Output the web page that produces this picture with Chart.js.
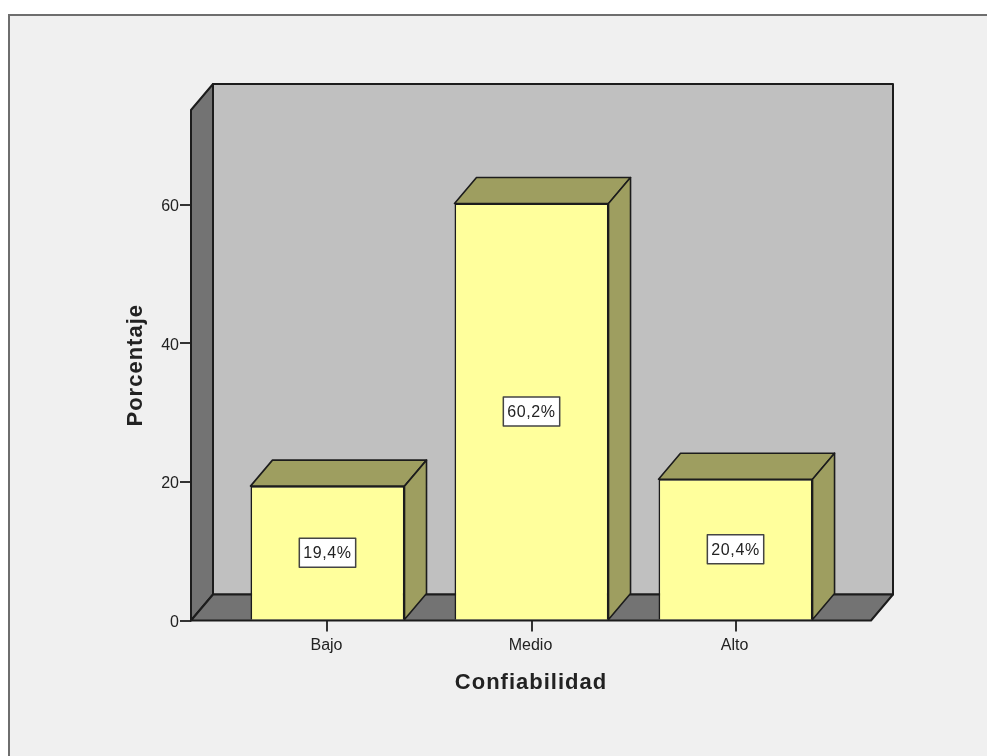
<!DOCTYPE html>
<html>
<head>
<meta charset="utf-8">
<title>Confiabilidad</title>
<script src="https://cdn.jsdelivr.net/npm/chart.js@4"></script>
<style>
    html, body { margin: 0; padding: 0; background: #fff; overflow: hidden; }
    #chart-box { position: absolute; left: 0; top: 0; width: 987px; height: 756px; }
</style>
</head>
<body>
<div id="chart-box"><canvas id="confiabilidadChart" width="987" height="756"></canvas></div>
<script>
var categories = ['Bajo', 'Medio', 'Alto'];
var percentages = [19.4, 60.2, 20.4];
var valueLabels = ['19,4%', '60,2%', '20,4%'];
var yTickValues = [0, 20, 40, 60];

// Desplazamiento de la profundidad 3D
var DEPTH_X = 22;
var DEPTH_Y = 26;
var LINE_COLOR = '#1c1c1c';
var FONT = '"Liberation Sans", Arial, sans-serif';

function fillFace(ctx, pts, fill, lineWidth) {
    ctx.beginPath();
    ctx.moveTo(pts[0][0], pts[0][1]);
    for (var i = 1; i < pts.length; i++) ctx.lineTo(pts[i][0], pts[i][1]);
    ctx.closePath();
    ctx.fillStyle = fill;
    ctx.fill();
    ctx.lineWidth = lineWidth;
    ctx.strokeStyle = LINE_COLOR;
    ctx.lineJoin = 'round';
    ctx.stroke();
}

// Fondo del panel con su marco superior e izquierdo
var panelPlugin = {
    id: 'panel',
    beforeDraw: function (chart) {
        var ctx = chart.ctx;
        ctx.save();
        ctx.fillStyle = '#f0f0f0';
        ctx.fillRect(9, 15, chart.width - 9, chart.height - 15);
        ctx.fillStyle = '#6e6e6e';
        ctx.fillRect(8, 14, chart.width - 8, 2);
        ctx.fillRect(8, 14, 2, chart.height - 14);
        ctx.restore();
    }
};

// Los títulos de eje llevan las letras algo separadas
var titleSpacingPlugin = {
    id: 'titleSpacing',
    afterLayout: function (chart) {
        [chart.scales.x, chart.scales.y].forEach(function (scale) {
            if (scale.spacedTitle) return;
            var drawTitle = scale.drawTitle;
            scale.drawTitle = function () {
                chart.ctx.letterSpacing = '1px';
                drawTitle.call(scale);
                chart.ctx.letterSpacing = '0px';
            };
            scale.spacedTitle = true;
        });
    }
};

// Paredes y suelo de la caja, detrás de las barras
var wallsPlugin = {
    id: 'walls',
    beforeDatasetsDraw: function (chart) {
        var ctx = chart.ctx;
        var a = chart.chartArea;
        ctx.save();
        fillFace(ctx, [[a.left + DEPTH_X, a.top - DEPTH_Y], [a.right + DEPTH_X, a.top - DEPTH_Y], [a.right + DEPTH_X, a.bottom - DEPTH_Y], [a.left + DEPTH_X, a.bottom - DEPTH_Y]], '#c0c0c0', 2);
        fillFace(ctx, [[a.left, a.top], [a.left + DEPTH_X, a.top - DEPTH_Y], [a.left + DEPTH_X, a.bottom - DEPTH_Y], [a.left, a.bottom]], '#737373', 2);
        fillFace(ctx, [[a.left, a.bottom], [a.left + DEPTH_X, a.bottom - DEPTH_Y], [a.right + DEPTH_X, a.bottom - DEPTH_Y], [a.right, a.bottom]], '#737373', 2);
        ctx.restore();
    }
};

// Caras superior y lateral de cada barra, y la etiqueta de porcentaje
var barFacesPlugin = {
    id: 'barFaces',
    afterDatasetsDraw: function (chart) {
        var ctx = chart.ctx;
        var bars = chart.getDatasetMeta(0).data;
        ctx.save();
        bars.forEach(function (bar, i) {
            var l = bar.x - bar.width / 2, r = bar.x + bar.width / 2;
            var top = bar.y, base = bar.base;
            fillFace(ctx, [[l, top], [l + DEPTH_X, top - DEPTH_Y], [r + DEPTH_X, top - DEPTH_Y], [r, top]], '#9e9e60', 1.6);
            fillFace(ctx, [[r, top], [r + DEPTH_X, top - DEPTH_Y], [r + DEPTH_X, base - DEPTH_Y], [r, base]], '#9e9e60', 1.6);

            var midY = (top + base) / 2;
            ctx.font = '16px ' + FONT;
            ctx.letterSpacing = '0.6px';
            var w = ctx.measureText(valueLabels[i]).width + 8;
            var h = 29;
            ctx.fillStyle = '#fff';
            ctx.fillRect(bar.x - w / 2, midY - h / 2, w, h);
            ctx.lineWidth = 1.5;
            ctx.strokeStyle = '#444';
            ctx.strokeRect(bar.x - w / 2, midY - h / 2, w, h);
            ctx.fillStyle = '#222';
            ctx.textAlign = 'center';
            ctx.textBaseline = 'middle';
            ctx.fillText(valueLabels[i], bar.x, midY + 1);
        });
        ctx.restore();
    }
};

new Chart(document.getElementById('confiabilidadChart').getContext('2d'), {
    type: 'bar',
    data: {
        datasets: [{
            data: percentages.map(function (y, i) { return { x: i, y: y }; }),
            backgroundColor: '#ffff9c',
            borderColor: LINE_COLOR,
            borderWidth: 1.6,
            barPercentage: 0.755,
            categoryPercentage: 1
        }]
    },
    plugins: [panelPlugin, titleSpacingPlugin, wallsPlugin, barFacesPlugin],
    options: {
        responsive: false,
        animation: false,
        layout: { padding: { left: 123, right: 116, top: 110, bottom: 60 } },
        plugins: { legend: { display: false }, tooltip: { enabled: false } },
        scales: {
            x: {
                type: 'linear',
                offset: false,
                min: -0.669,
                max: 2.664,
                afterBuildTicks: function (scale) {
                    scale.ticks = categories.map(function (c, i) { return { value: i }; });
                },
                afterFit: function (scale) { scale.height = 75.5; },
                grid: { offset: false, drawOnChartArea: false, drawTicks: true, tickLength: 11, color: '#333', lineWidth: 2 },
                border: { display: false },
                ticks: {
                    autoSkip: false,
                    maxRotation: 0,
                    padding: 4,
                    labelOffset: -1,
                    color: '#222',
                    font: { family: FONT, size: 16 },
                    callback: function (value) { return categories[value]; }
                },
                title: {
                    display: true,
                    text: 'Confiabilidad',
                    color: '#222',
                    font: { family: FONT, size: 22, weight: 'bold' },
                    padding: { top: 8, bottom: 0 }
                }
            },
            y: {
                min: 0,
                max: 73.7,
                afterBuildTicks: function (scale) {
                    scale.ticks = yTickValues.map(function (v) { return { value: v }; });
                },
                afterFit: function (scale) { scale.width = 68; },
                grid: { drawOnChartArea: false, drawTicks: true, tickLength: 11, color: '#333', lineWidth: 2 },
                border: { display: false },
                ticks: {
                    padding: 1,
                    labelOffset: 2,
                    color: '#222',
                    font: { family: FONT, size: 16 }
                },
                title: {
                    display: true,
                    text: 'Porcentaje',
                    color: '#222',
                    font: { family: FONT, size: 22, weight: 'bold' },
                    padding: { top: 0, bottom: 0 }
                }
            }
        }
    }
});
</script>
</body>
</html>
